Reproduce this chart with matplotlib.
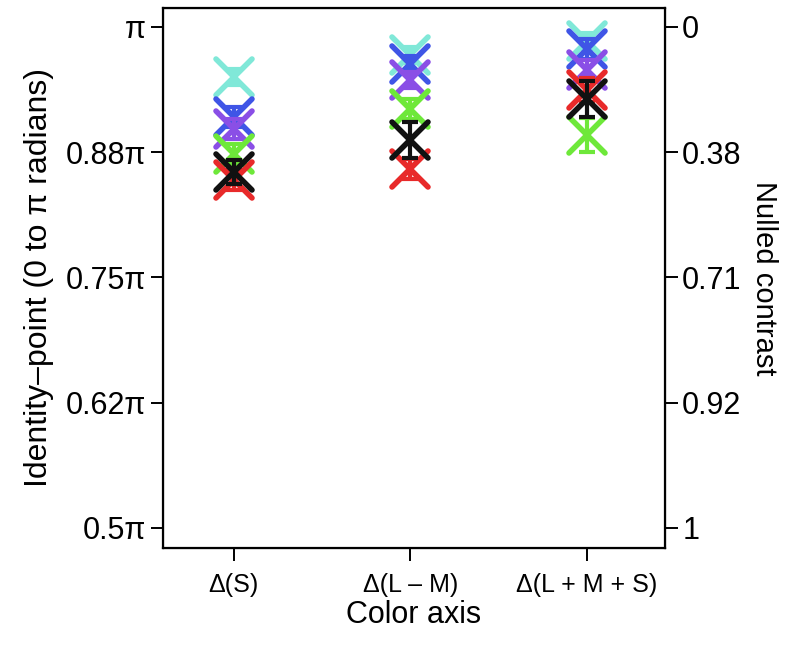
import numpy as np
import matplotlib.pyplot as plt
from matplotlib.markers import MarkerStyle

plt.rcParams['font.family'] = ['Liberation Sans', 'DejaVu Sans']

# colour axes and measured identity points (units of pi)
axes_labels = ['Δ(S)', 'Δ(L – M)', 'Δ(L + M + S)']
x_pos = [1, 2, 3]

cyan = [0.950, 0.972, 0.986]
blue = [0.910, 0.963, 0.978]
purple = [0.898, 0.947, 0.957]
green = [0.873, 0.918, 0.892]
red = [0.847, 0.858, 0.937]
black = [0.855, 0.887, 0.928]

err_cyan = [0.008, 0.008, 0.008]
err_blue = [0.010, 0.008, 0.010]
err_purple = [0.010, 0.008, 0.010]
err_green = [0.010, 0.010, 0.017]
err_red = [0.010, 0.010, 0.012]
err_black = [0.012, 0.018, 0.018]

left_ticks = [0.5, 0.625, 0.75, 0.875, 1.0]
left_labels = ['0.5π', '0.62π', '0.75π', '0.88π', 'π']
right_labels = ['1', '0.92', '0.71', '0.38', '0']

series = [
    (cyan, err_cyan, '#80e8d8'),
    (blue, err_blue, '#3f55e6'),
    (purple, err_purple, '#8a4fe6'),
    (green, err_green, '#6ee83a'),
    (red, err_red, '#e82a2a'),
    (black, err_black, '#111111'),
]

fig = plt.figure(figsize=(8, 6.47), dpi=100)
ax = fig.add_axes([0.204, 0.153, 0.627, 0.835])

xm = MarkerStyle('x', capstyle='round')
for vals, err, col in series:
    ax.errorbar(x_pos, vals, yerr=err, fmt='none', ecolor=col,
                elinewidth=3, capsize=6, capthick=3)
    ax.plot(x_pos, vals, linestyle='none', marker=xm, color=col, ms=26, mew=4)

ax.set_xlim(0.6, 3.44)
ax.set_ylim(0.48, 1.019)
ax.set_xticks(x_pos)
ax.set_xticklabels(axes_labels)
ax.set_yticks(left_ticks)
ax.set_yticklabels(left_labels)
ax.set_xlabel('Color axis', fontsize=22, labelpad=2)
ax.set_ylabel('Identity–point (0 to π radians)', fontsize=23, labelpad=8)
ax.tick_params(axis='both', labelsize=22, length=9, width=1.4, direction='out')
ax.tick_params(axis='x', pad=9, labelsize=18)
for s in ax.spines.values():
    s.set_linewidth(1.6)

ax2 = ax.twinx()
ax2.set_ylim(ax.get_ylim())
ax2.set_yticks(left_ticks)
ax2.set_yticklabels(right_labels)
ax2.tick_params(axis='y', labelsize=22, length=9, width=1.4, direction='out')
ax2.set_ylabel('Nulled contrast', fontsize=21, rotation=270, labelpad=26)

fig.savefig('out.png', dpi=100)
